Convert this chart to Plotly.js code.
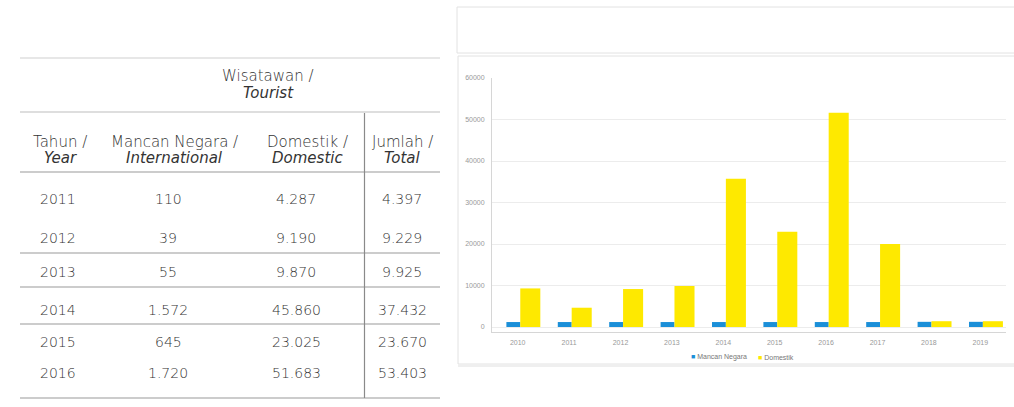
<!DOCTYPE html>
<html>
<head>
<meta charset="utf-8">
<script src="https://cdn.plot.ly/plotly-3.0.1.min.js"></script>
<style>html,body{margin:0;padding:0;background:#fff;}#chart{width:1014px;height:407px;}</style>
</head>
<body>
<div id="chart"></div>
<script>
// ---------- Data ----------
const tableTitle = ['Wisatawan /', 'Tourist'];
const tableHeaders = [
  ['Tahun /', 'Year'],
  ['Mancan Negara /', 'International'],
  ['Domestik /', 'Domestic'],
  ['Jumlah /', 'Total']
];
const tableYears = ['2011', '2012', '2013', '2014', '2015', '2016'];
const tableInternational = ['110', '39', '55', '1.572', '645', '1.720'];
const tableDomestic = ['4.287', '9.190', '9.870', '45.860', '23.025', '51.683'];
const tableTotal = ['4.397', '9.229', '9.925', '37.432', '23.670', '53.403'];

const chartYears = ['2010', '2011', '2012', '2013', '2014', '2015', '2016', '2017', '2018', '2019'];
const seriesNames = ['Mancan Negara', 'Domestik'];
const international = [1200, 1200, 1200, 1200, 1200, 1200, 1200, 1200, 1250, 1250];
const domestic = [9300, 4650, 9150, 9880, 35700, 22970, 51640, 20000, 1400, 1400];

// ---------- Layout helpers ----------
const W = 1014, H = 407;
const X = p => p / W;
const Y = p => 1 - p / H;
const blue = '#1b8fd8', yellow = '#fee900';
const tFont = {family: 'DejaVu Sans, Liberation Sans, sans-serif', size: 14, color: '#333333', weight: 300};
const hFont = {family: 'DejaVu Sans, Liberation Sans, sans-serif', size: 15, color: '#333333', weight: 300};

const annotations = [];
function txt(text, px, py, font, anchor) {
  annotations.push({xref: 'paper', yref: 'paper', x: X(px), y: Y(py), text: text,
    showarrow: false, xanchor: anchor || 'center', yanchor: 'middle', font: font});
}
// title of table
txt(tableTitle[0], 268, 76, hFont);
txt('<i>' + tableTitle[1] + '</i>', 268, 93, hFont);
// column headers
const headerX = [60, 174, 307, 402];
tableHeaders.forEach((h, i) => {
  txt(h[0], headerX[i], 142, hFont);
  txt('<i>' + h[1] + '</i>', headerX[i], 158, hFont);
});
// rows
const rowY = [199, 238, 272, 310, 342, 373];
tableYears.forEach((yr, i) => {
  txt(yr, 38, rowY[i], tFont, 'left');
  txt(tableInternational[i], 168, rowY[i], tFont);
  txt(tableDomestic[i], 296, rowY[i], tFont);
  txt(tableTotal[i], 402, rowY[i], tFont);
});

// legend (manual, small)
const legFont = {family: 'Liberation Sans, Arial, sans-serif', size: 7, color: '#777'};
annotations.push({xref: 'paper', yref: 'paper', x: X(689), y: Y(357), xanchor: 'left', yanchor: 'middle',
  showarrow: false, font: legFont, text: '<span style="color:' + blue + '">■</span> ' + seriesNames[0]});
annotations.push({xref: 'paper', yref: 'paper', x: X(756), y: Y(357), xanchor: 'left', yanchor: 'middle',
  showarrow: false, font: legFont, text: '<span style="color:' + yellow + '">■</span> ' + seriesNames[1]});

const shapes = [];
function hline(py, x0, x1, color, w) {
  shapes.push({type: 'line', xref: 'paper', yref: 'paper', x0: X(x0), x1: X(x1), y0: Y(py), y1: Y(py),
    line: {color: color, width: w || 1}});
}
function vline(px, y0, y1, color, w) {
  shapes.push({type: 'line', xref: 'paper', yref: 'paper', x0: X(px), x1: X(px), y0: Y(y0), y1: Y(y1),
    line: {color: color, width: w || 1}});
}
// table lines
hline(58, 20, 440, '#cfcfcf', 1);
hline(112, 20, 440, '#bdbdbd', 1);
hline(172, 20, 440, '#9a9a9a', 1.2);
hline(253, 20, 440, '#9a9a9a', 1.2);
hline(287, 20, 440, '#9a9a9a', 1.2);
hline(324, 20, 440, '#9a9a9a', 1.2);
hline(398, 20, 440, '#9a9a9a', 1.2);
vline(364.5, 113, 398, '#8a8a8a', 1.2);

// chart panels
shapes.push({type: 'rect', xref: 'paper', yref: 'paper', x0: X(457), x1: X(1016), y0: Y(7), y1: Y(53),
  line: {color: '#e2e2e2', width: 1}, fillcolor: 'rgba(0,0,0,0)', layer: 'below'});
shapes.push({type: 'rect', xref: 'paper', yref: 'paper', x0: X(458), x1: X(1016), y0: Y(56), y1: Y(364),
  line: {color: '#e2e2e2', width: 1}, fillcolor: 'rgba(0,0,0,0)', layer: 'below'});
hline(365.5, 458, 1014, '#efefef', 3);

const traces = [
  {type: 'bar', x: chartYears, y: international, name: seriesNames[0], marker: {color: blue},
   width: 0.27, offset: -0.22, showlegend: false, hoverinfo: 'x+y'},
  {type: 'bar', x: chartYears, y: domestic, name: seriesNames[1], marker: {color: yellow},
   width: 0.39, offset: 0.05, showlegend: false, hoverinfo: 'x+y'}
];

const tickFont = {family: 'Liberation Sans, Arial, sans-serif', size: 7, color: '#999'};
const layout = {
  width: W, height: H,
  margin: {l: 0, r: 0, t: 0, b: 0},
  paper_bgcolor: '#fff', plot_bgcolor: '#fff',
  barmode: 'overlay',
  showlegend: false,
  xaxis: {
    type: 'category', domain: [X(492), X(1006)], range: [-0.5, 9.5],
    showline: true, linecolor: '#d6d6d6', linewidth: 1,
    showgrid: false, zeroline: false,
    ticks: 'outside', ticklen: 4, tickcolor: 'rgba(0,0,0,0)',
    tickfont: tickFont, fixedrange: true
  },
  yaxis: {
    domain: [Y(332), Y(78)], range: [-1200, 60000],
    tickvals: [0, 10000, 20000, 30000, 40000, 50000, 60000], tickformat: 'd',
    showline: true, linecolor: '#d6d6d6', linewidth: 1,
    showgrid: true, gridcolor: '#ececec', gridwidth: 1, zeroline: false,
    ticks: 'outside', ticklen: 5, tickcolor: 'rgba(0,0,0,0)',
    tickfont: tickFont, fixedrange: true
  },
  annotations: annotations,
  shapes: shapes
};

Plotly.newPlot('chart', traces, layout, {displayModeBar: false, staticPlot: true});
</script>
</body>
</html>
